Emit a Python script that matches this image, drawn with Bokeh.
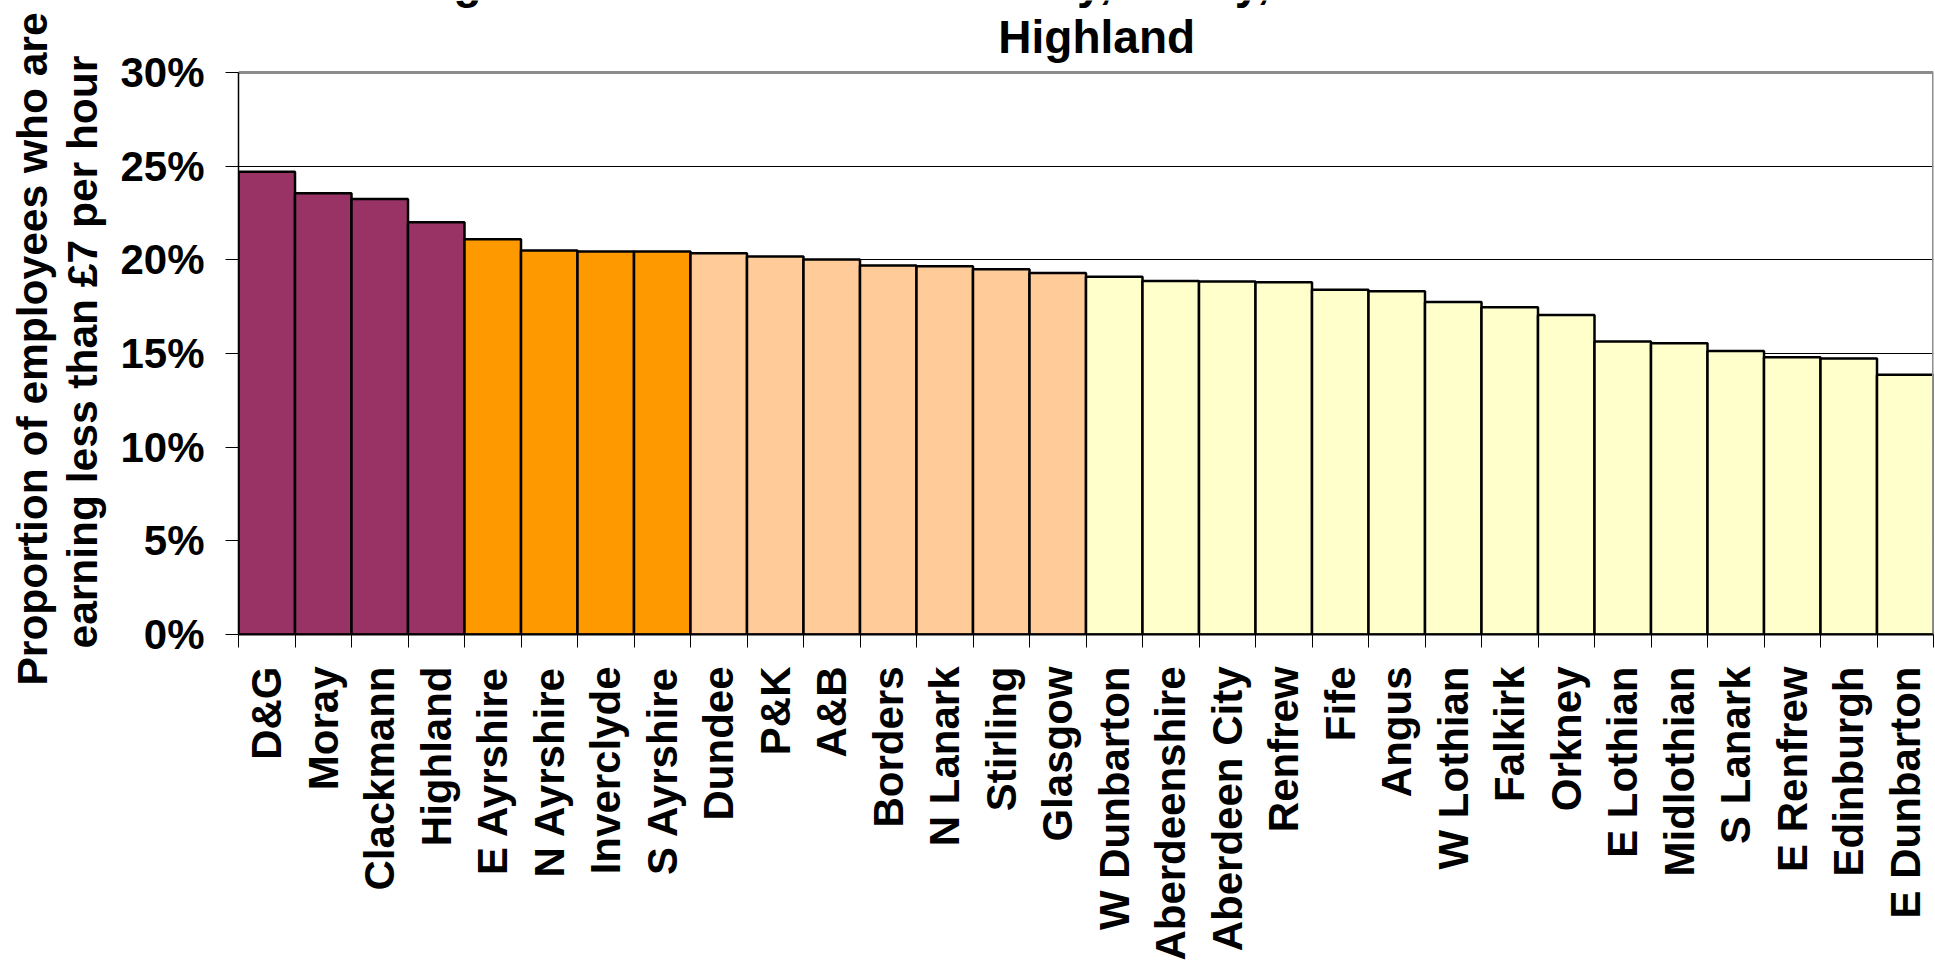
import math
from bokeh.plotting import figure
from bokeh.models import Range1d, FixedTicker, Label, Title
from bokeh.embed import file_html
from bokeh.resources import INLINE

# ---- data ----
areas = ["D&G", "Moray", "Clackmann", "Highland", "E Ayrshire", "N Ayrshire",
         "Inverclyde", "S Ayrshire", "Dundee", "P&K", "A&B", "Borders",
         "N Lanark", "Stirling", "Glasgow", "W Dunbarton", "Aberdeenshire",
         "Aberdeen City", "Renfrew", "Fife", "Angus", "W Lothian", "Falkirk",
         "Orkney", "E Lothian", "Midlothian", "S Lanark", "E Renfrew",
         "Edinburgh", "E Dunbarton"]
shares = [24.7, 23.55, 23.25, 22.0, 21.1, 20.5,
          20.45, 20.45, 20.35, 20.18, 20.02, 19.7,
          19.66, 19.5, 19.3, 19.1, 18.87,
          18.84, 18.8, 18.4, 18.32, 17.75, 17.47,
          17.06, 15.64, 15.55, 15.14, 14.8,
          14.73, 13.87]
bands = ["top", "top", "top", "top", "high", "high",
         "high", "high", "mid", "mid", "mid", "mid",
         "mid", "mid", "mid", "low", "low",
         "low", "low", "low", "low", "low", "low",
         "low", "low", "low", "low", "low",
         "low", "low"]
y_ticks = [0, 5, 10, 15, 20, 25, 30]
y_tick_labels = ["0%", "5%", "10%", "15%", "20%", "25%", "30%"]
y_max = 30
title_lines = ["Highest in Dumfries & Galloway, Moray, Clackmannanshire and",
               "Highland"]
y_title_lines = ["Proportion of employees who are",
                 "earning less than \u00a37 per hour"]

# ---- style ----
band_colors = {"top": "#993366", "high": "#FF9900", "mid": "#FFCC99", "low": "#FFFFCC"}
FONT = "Liberation Sans"
BORDER = "#8c8c8c"

n = len(areas)
xs = list(range(1, n + 1))

# frame runs to the canvas top so that the title can sit above the 30% line
frame_top_px = 72
frame_h_px = 562
y_top = y_max * (frame_h_px + frame_top_px) / frame_h_px
px_per_unit = frame_h_px / y_max

p = figure(width=1935, height=964, output_backend="svg", toolbar_location=None,
           x_range=Range1d(0.5, n + 0.5), y_range=Range1d(0, y_top),
           min_border_left=238, min_border_right=2, min_border_top=0,
           min_border_bottom=330)
p.background_fill_color = "white"
p.border_fill_color = "white"
p.outline_line_color = None

p.vbar(x=xs, top=shares, bottom=0, width=1.0,
       fill_color=[band_colors[b] for b in bands],
       line_color="black", line_width=2.5)

# plot-area border (top and right), grey as in the reference
p.segment(x0=[0.5, n + 0.5], y0=[y_max, 0], x1=[n + 0.5, n + 0.5], y1=[y_max, y_max],
          line_color=BORDER, line_width=3)

# x axis
xa = p.xaxis[0]
xa.ticker = FixedTicker(ticks=xs, minor_ticks=[i + 0.5 for i in range(0, n + 1)])
xa.major_label_overrides = {x: a for x, a in zip(xs, areas)}
xa.major_label_orientation = math.pi / 2
xa.major_tick_out = 0
xa.major_tick_in = 0
xa.minor_tick_out = 13
xa.minor_tick_in = 0
xa.minor_tick_line_color = "black"
xa.minor_tick_line_width = 1
xa.major_label_standoff = 19
xa.major_label_text_font = FONT
xa.major_label_text_font_style = "bold"
xa.major_label_text_font_size = "42px"
xa.major_label_text_color = "black"
xa.axis_line_color = "black"
xa.axis_line_width = 2

# y axis
ya = p.yaxis[0]
ya.ticker = FixedTicker(ticks=y_ticks)
ya.bounds = (0, y_max)
ya.major_label_overrides = {t: l for t, l in zip(y_ticks, y_tick_labels)}
ya.major_tick_out = 13
ya.major_tick_in = 0
ya.minor_tick_out = 0
ya.minor_tick_in = 0
ya.major_tick_line_color = "black"
ya.major_tick_line_width = 1
ya.major_label_standoff = 21
ya.major_label_text_font = FONT
ya.major_label_text_font_style = "bold"
ya.major_label_text_font_size = "42px"
ya.major_label_text_color = "black"
ya.axis_line_color = "black"
ya.axis_line_width = 1.5

p.xgrid.visible = False
p.ygrid.ticker = FixedTicker(ticks=y_ticks[1:-1])
p.ygrid.grid_line_color = "black"
p.ygrid.grid_line_width = 1.2

# chart title (two lines; the first is cut by the top edge as in the reference)
title_x = 15.69
p.add_layout(Label(x=title_x, y=y_max + 91 / px_per_unit, text=title_lines[0],
                   text_align="center", text_baseline="alphabetic",
                   text_font=FONT, text_font_style="bold",
                   text_font_size="46px", text_color="black"))
p.add_layout(Label(x=title_x, y=y_max + 36 / px_per_unit, text=title_lines[1],
                   text_align="center", text_baseline="alphabetic",
                   text_font=FONT, text_font_style="bold",
                   text_font_size="46px", text_color="black"))

# y axis title, two rotated lines in the left panel
t2 = Title(text=y_title_lines[1], align="left", offset=-14, vertical_align="middle",
           standoff=21, text_font=FONT, text_font_style="bold",
           text_font_size="42.5px", text_color="black")
t1 = Title(text=y_title_lines[0], align="left", offset=-51, vertical_align="middle",
           standoff=-18, text_font=FONT, text_font_style="bold",
           text_font_size="42.5px", text_color="black")
p.add_layout(t2, "left")
p.add_layout(t1, "left")

open("out.html", "w").write(file_html(p, INLINE))
